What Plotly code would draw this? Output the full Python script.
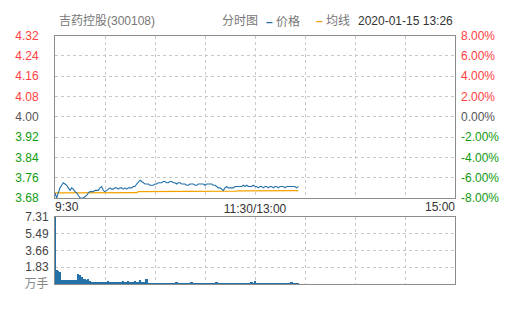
import plotly.graph_objects as go

prev_close = 4.00

prices = [
    3.70, 3.68, 3.70, 3.72, 3.73, 3.74, 3.735, 3.73, 3.72, 3.71,
    3.72, 3.715, 3.705, 3.70, 3.69, 3.68, 3.68, 3.68, 3.685, 3.69,
    3.70, 3.705, 3.705, 3.705, 3.71, 3.71, 3.71, 3.72, 3.725, 3.71,
    3.705, 3.71, 3.715, 3.72, 3.715, 3.715, 3.72, 3.72, 3.715, 3.72,
    3.72, 3.715, 3.72, 3.715, 3.72, 3.72, 3.72, 3.725, 3.725, 3.735,
    3.745, 3.75, 3.745, 3.74, 3.735, 3.735, 3.735, 3.73, 3.73, 3.73,
    3.735, 3.735, 3.74, 3.74, 3.74, 3.745, 3.745, 3.74, 3.74, 3.745,
    3.745, 3.74, 3.74, 3.735, 3.74, 3.74, 3.735, 3.735, 3.735, 3.73,
    3.73, 3.735, 3.735, 3.735, 3.73, 3.73, 3.735, 3.735, 3.735, 3.735,
    3.73, 3.735, 3.735, 3.735, 3.735, 3.73, 3.73, 3.725, 3.72, 3.72,
    3.715, 3.71, 3.72, 3.725, 3.72, 3.72, 3.72, 3.72, 3.725, 3.725,
    3.725, 3.725, 3.725, 3.73, 3.725, 3.73, 3.725, 3.725, 3.725, 3.73,
    3.725, 3.725, 3.72, 3.725, 3.725, 3.72, 3.725, 3.725, 3.72, 3.725,
    3.725, 3.72, 3.725, 3.725, 3.72, 3.725, 3.725, 3.725, 3.72, 3.725,
    3.725, 3.725, 3.725, 3.725, 3.725, 3.72, 3.725,
]

avg_prices = [
    3.700, 3.700, 3.700, 3.700, 3.700, 3.700, 3.700, 3.700, 3.700, 3.700,
    3.700, 3.700, 3.700, 3.701, 3.701, 3.701, 3.701, 3.701, 3.701, 3.701,
    3.701, 3.701, 3.701, 3.701, 3.701, 3.701, 3.701, 3.701, 3.701, 3.701,
    3.701, 3.701, 3.701, 3.701, 3.701, 3.701, 3.701, 3.701, 3.701, 3.701,
    3.701, 3.701, 3.701, 3.701, 3.701, 3.701, 3.701, 3.701, 3.701, 3.701,
    3.705, 3.705, 3.705, 3.705, 3.705, 3.705, 3.705, 3.705, 3.705, 3.705,
    3.705, 3.705, 3.705, 3.705, 3.705, 3.705, 3.705, 3.705, 3.705, 3.705,
    3.706, 3.706, 3.706, 3.706, 3.706, 3.706, 3.706, 3.706, 3.706, 3.706,
    3.706, 3.706, 3.706, 3.706, 3.706, 3.706, 3.706, 3.706, 3.706, 3.706,
    3.707, 3.707, 3.707, 3.707, 3.707, 3.707, 3.707, 3.707, 3.707, 3.707,
    3.707, 3.707, 3.707, 3.707, 3.707, 3.707, 3.707, 3.707, 3.707, 3.707,
    3.708, 3.708, 3.708, 3.708, 3.708, 3.708, 3.708, 3.708, 3.708, 3.708,
    3.708, 3.708, 3.708, 3.708, 3.708, 3.708, 3.708, 3.708, 3.708, 3.708,
    3.709, 3.709, 3.709, 3.709, 3.709, 3.709, 3.709, 3.709, 3.709, 3.709,
    3.709, 3.709, 3.709, 3.709, 3.709, 3.709, 3.709,
]

volumes = [
    7.31, 1.55, 1.45, 1.30, 0.45, 0.38, 0.42, 0.40, 0.45, 0.40,
    0.42, 0.38, 0.45, 0.40, 1.05, 0.95, 0.75, 0.55, 0.50, 0.45,
    0.55, 0.35, 0.22, 0.20, 0.22, 0.20, 0.20, 0.14, 0.14, 0.14,
    0.14, 0.14, 0.30, 0.14, 0.14, 0.14, 0.14, 0.14, 0.14, 0.14,
    0.14, 0.30, 0.14, 0.14, 0.30, 0.14, 0.14, 0.14, 0.35, 0.14,
    0.15, 0.42, 0.20, 0.14, 0.14, 0.52, 0.08, 0.08, 0.08, 0.08,
    0.08, 0.08, 0.08, 0.08, 0.08, 0.08, 0.08, 0.08, 0.08, 0.08,
    0.08, 0.08, 0.08, 0.20, 0.08, 0.08, 0.08, 0.08, 0.08, 0.08,
    0.08, 0.08, 0.22, 0.08, 0.08, 0.08, 0.08, 0.08, 0.08, 0.08,
    0.08, 0.08, 0.08, 0.08, 0.08, 0.08, 0.08, 0.22, 0.08, 0.08,
    0.08, 0.08, 0.08, 0.08, 0.08, 0.08, 0.08, 0.08, 0.08, 0.08,
    0.08, 0.08, 0.08, 0.08, 0.08, 0.08, 0.08, 0.08, 0.15, 0.08,
    0.35, 0.08, 0.08, 0.08, 0.08, 0.08, 0.08, 0.08, 0.08, 0.08,
    0.08, 0.08, 0.08, 0.08, 0.08, 0.08, 0.08, 0.08, 0.08, 0.08,
    0.08, 0.08, 0.25, 0.08, 0.08, 0.08, 0.08,
]

minute_idx = list(range(len(prices)))
session_len = 240
grid_minutes = [30, 60, 90, 120, 150, 180, 210]
time_labels = ["9:30", "11:30/13:00", "15:00"]
price_ticks = [3.68, 3.76, 3.84, 3.92, 4.00, 4.08, 4.16, 4.24, 4.32]
pct_ticks = [-8, -6, -4, -2, 0, 2, 4, 6, 8]
vol_ticks = [0, 1.83, 3.66, 5.49, 7.31]
vol_labels = ["万手", "1.83", "3.66", "5.49", "7.31"]

stock_title = "吉药控股(300108)"
chart_type = "分时图"
legend_names = ["价格", "均线"]
timestamp = "2020-01-15 13:26"

BLUE = "#2471a8"
ORANGE = "#f5a200"
RED = "#ff4040"
GREEN = "#109a10"
NEUTRAL = "#555555"
GRID = "#c8c8c8"
FRAME = "#8c8c8c"
FONT = "Liberation Sans, Arial, Noto Sans CJK SC, sans-serif"

W, H = 505, 310
xdom = [55 / W, 455 / W]
main_dom = [(H - 200) / H, (H - 30) / H]
vol_dom = [(H - 290) / H, (H - 220) / H]


def col(v, ref):
    if abs(v - ref) < 1e-9:
        return NEUTRAL
    return RED if v > ref else GREEN


price_text = [f"<span style='color:{col(v, prev_close)}'>{v:.2f}</span>" for v in price_ticks]
pct_text = [f"<span style='color:{col(v, 0)}'>{v:.2f}%</span>" for v in pct_ticks]
vol_text = [f"<span style='color:#888888'>{t}</span>" if i == 0 else t
            for i, t in enumerate(vol_labels)]

fig = go.Figure()
fig.add_trace(go.Scatter(x=minute_idx, y=avg_prices, mode="lines",
                         line=dict(color=ORANGE, width=1.2), xaxis="x", yaxis="y",
                         showlegend=False, hoverinfo="skip"))
fig.add_trace(go.Scatter(x=minute_idx, y=prices, mode="lines",
                         line=dict(color=BLUE, width=1.1), xaxis="x", yaxis="y",
                         showlegend=False, hoverinfo="skip"))
pct_vals = [(p / prev_close - 1) * 100 for p in prices]
fig.add_trace(go.Scatter(x=minute_idx, y=pct_vals, mode="lines", opacity=0,
                         xaxis="x", yaxis="y2", showlegend=False, hoverinfo="skip"))
fig.add_trace(go.Scatter(x=minute_idx[:1], y=prices[:1], mode="markers", opacity=0,
                         xaxis="x3", yaxis="y", showlegend=False, hoverinfo="skip"))
fig.add_trace(go.Scatter(x=minute_idx[:1], y=prices[:1], mode="markers", opacity=0,
                         xaxis="x4", yaxis="y", showlegend=False, hoverinfo="skip"))
fig.add_trace(go.Bar(x=minute_idx, y=volumes, width=1.0, marker=dict(color=BLUE, line=dict(width=0)),
                     xaxis="x2", yaxis="y3", showlegend=False, hoverinfo="skip"))

xcommon = dict(range=[0, session_len], domain=xdom, zeroline=False, ticks="",
               showline=True, mirror=True, linecolor=FRAME, linewidth=1,
               fixedrange=True)
gridx = dict(showgrid=True, gridcolor=GRID, griddash="3px,3px", gridwidth=1)

fig.update_layout(
    width=W, height=H, margin=dict(l=0, r=0, t=0, b=0),
    paper_bgcolor="white", plot_bgcolor="white",
    font=dict(family=FONT, size=12, color="#333333"),
    bargap=0,
    xaxis=dict(**xcommon, **gridx, anchor="y", tickmode="array", tickvals=grid_minutes,
               ticktext=["", "", "", time_labels[1], "", "", ""],
               tickfont=dict(size=12, color="#333333")),
    xaxis3=dict(range=[0, session_len], overlaying="x", anchor="y", showgrid=False,
                zeroline=False, ticks="", tickmode="array", tickvals=[0],
                ticktext=[time_labels[0]], ticklabelposition="outside right",
                tickfont=dict(size=12, color="#333333")),
    xaxis4=dict(range=[0, session_len], overlaying="x", anchor="y", showgrid=False,
                zeroline=False, ticks="", tickmode="array", tickvals=[session_len],
                ticktext=[time_labels[2]], ticklabelposition="outside left",
                tickfont=dict(size=12, color="#333333")),
    yaxis=dict(domain=main_dom, range=[price_ticks[0], price_ticks[-1]], anchor="x",
               tickmode="array", tickvals=price_ticks, ticktext=price_text,
               showgrid=True, gridcolor=GRID, griddash="3px,3px", zeroline=False,
               showline=True, mirror=True, linecolor=FRAME, ticks="",
               ticklabelstandoff=13, tickfont=dict(size=12)),
    yaxis2=dict(range=[pct_ticks[0], pct_ticks[-1]], overlaying="y", side="right",
                anchor="x", tickmode="array", tickvals=pct_ticks, ticktext=pct_text,
                showgrid=False, zeroline=False, ticks="", ticklabelstandoff=5,
                tickfont=dict(size=12)),
    xaxis2=dict(**xcommon, **gridx, anchor="y3", tickmode="array", tickvals=grid_minutes,
                showticklabels=False),
    yaxis3=dict(domain=vol_dom, range=[0, vol_ticks[-1]], anchor="x2",
                tickmode="array", tickvals=vol_ticks, ticktext=vol_text,
                showgrid=True, gridcolor=GRID, griddash="3px,3px", zeroline=False,
                showline=True, mirror=True, linecolor=FRAME, ticks="",
                ticklabelstandoff=3, tickfont=dict(size=12, color="#444444")),
)

header_y = 1 - 15 / H
fig.add_annotation(text=stock_title, x=57 / W, y=header_y, xref="paper", yref="paper",
                   xanchor="left", yanchor="middle", showarrow=False,
                   font=dict(size=12, color="#777777"))
fig.add_annotation(text=chart_type, x=220 / W, y=header_y, xref="paper", yref="paper",
                   xanchor="left", yanchor="middle", showarrow=False,
                   font=dict(size=12, color="#777777"))
fig.add_annotation(text=f"<span style='color:{BLUE}'><b>–</b></span> {legend_names[0]}",
                   x=264 / W, y=header_y, xref="paper", yref="paper",
                   xanchor="left", yanchor="middle", showarrow=False,
                   font=dict(size=12, color="#777777"))
fig.add_annotation(text=f"<span style='color:{ORANGE}'><b>–</b></span> {legend_names[1]}",
                   x=314 / W, y=header_y, xref="paper", yref="paper",
                   xanchor="left", yanchor="middle", showarrow=False,
                   font=dict(size=12, color="#777777"))
fig.add_annotation(text=timestamp, x=455 / W, y=header_y, xref="paper", yref="paper",
                   xanchor="right", yanchor="middle", showarrow=False,
                   font=dict(size=12, color="#333333"))

fig.write_html("out.html")
